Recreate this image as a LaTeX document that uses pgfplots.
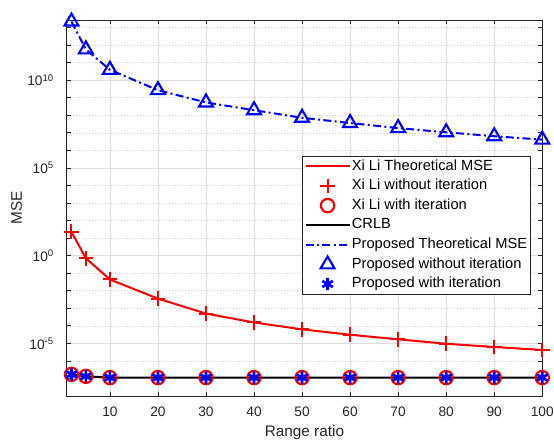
\documentclass[border=0pt]{standalone}
\usepackage{pgfplots}
\pgfplotsset{compat=1.18}
\usepackage{fontspec}
\setmainfont{Liberation Sans}
\definecolor{axgray}{rgb}{0.15,0.15,0.15}
\definecolor{gridmaj}{rgb}{0.87,0.87,0.87}
\definecolor{gridmin}{rgb}{0.80,0.80,0.80}
\begin{document}
\begin{tikzpicture}
\path[use as bounding box] (-50pt,-34.5pt) rectangle (365.5pt,297pt);
\begin{axis}[
  scale only axis,
  width=356.7pt, height=282pt,
  ymode=log,
  xmin=1, xmax=100,
  ymin=1e-8, ymax=2.7e13,
  xtick={10,20,30,40,50,60,70,80,90,100},
  ytick={1e-5,1,1e5,1e10},
  yticklabels={10\textsuperscript{-5},10\textsuperscript{0},10\textsuperscript{5},10\textsuperscript{10}},
  minor ytick={1e-8,1e-7,1e-6,1e-4,1e-3,1e-2,1e-1,1e1,1e2,1e3,1e4,1e6,1e7,1e8,1e9,1e11,1e12,1e13},
  /pgf/number format/assume math mode=true,
  grid=both,
  major grid style={color=gridmaj, line width=0.4pt},
  minor grid style={color=gridmin, dotted, line width=0.4pt},
  tick align=inside,
  major tick length=3pt, minor tick length=3pt,
  every tick/.style={axgray, line width=0.5pt},
  axis line style={axgray, line width=0.6pt},
  tick label style={font=\fontsize{10.3}{12}\selectfont, text=axgray},
  xticklabel style={yshift=-4.5pt},
  yticklabel style={xshift=-6pt},
  xlabel={Range ratio},
  ylabel={MSE},
  label style={font=\fontsize{11.5}{13}\selectfont, text=axgray},
  xlabel style={at={(axis description cs:0.5,-0.0984)}, anchor=center},
  ylabel style={at={(axis description cs:-0.1051,0.5)}, anchor=center},
  clip=false,
  legend cell align=left,
  legend style={at={(0.976,0.639)}, anchor=north east, draw=axgray, line width=0.5pt,
    font=\fontsize{11}{13}\selectfont, inner sep=1.5pt, row sep=2.2pt,
    nodes={inner sep=1pt, text height=8pt, text depth=2.5pt}},
  legend image code/.code={\draw[mark repeat=2,mark phase=2,#1] plot coordinates {(0pt,0pt) (16.5pt,0pt) (33pt,0pt)};},
]
\addplot[red, line width=1.5pt] coordinates {
  (2,22.9) (5,0.71) (10,0.0437) (20,3.55e-3) (30,5.0e-4) (40,1.55e-4)
  (50,6.3e-5) (60,3.1e-5) (70,1.7e-5) (80,9.5e-6) (90,6.2e-6) (100,4.2e-6)
};
\addlegendentry{Xi Li Theoretical MSE}
\addplot[red, only marks, mark=+, mark size=5.5pt, line width=1.5pt] coordinates {
  (2,22.9) (5,0.71) (10,0.0437) (20,3.55e-3) (30,5.0e-4) (40,1.55e-4)
  (50,6.3e-5) (60,3.1e-5) (70,1.7e-5) (80,9.5e-6) (90,6.2e-6) (100,4.2e-6)
};
\addlegendentry{Xi Li without iteration}
\addplot[red, only marks, mark=o, mark size=5pt, line width=1.6pt] coordinates {
  (2,1.7e-7) (5,1.32e-7) (10,1.12e-7) (20,1.12e-7) (30,1.12e-7) (40,1.12e-7)
  (50,1.12e-7) (60,1.12e-7) (70,1.12e-7) (80,1.12e-7) (90,1.12e-7) (100,1.12e-7)
};
\addlegendentry{Xi Li with iteration}
\addplot[black, line width=1.5pt] coordinates {
  (2,1.7e-7) (5,1.32e-7) (10,1.12e-7) (20,1.12e-7) (30,1.12e-7) (40,1.12e-7)
  (50,1.12e-7) (60,1.12e-7) (70,1.12e-7) (80,1.12e-7) (90,1.12e-7) (100,1.12e-7)
};
\addlegendentry{CRLB}
\addplot[blue, line width=1.5pt, dash pattern=on 6pt off 2.5pt on 1.5pt off 2.5pt] coordinates {
  (2,2.2e13) (5,5.7e11) (10,3.9e10) (20,2.7e9) (30,5.4e8) (40,1.95e8)
  (50,7.2e7) (60,3.6e7) (70,1.86e7) (80,1.07e7) (90,6.4e6) (100,4.1e6)
};
\addlegendentry{Proposed Theoretical MSE}
\addplot[blue, only marks, mark=triangle, mark size=6pt, line width=1.6pt] coordinates {
  (2,2.2e13) (5,5.7e11) (10,3.9e10) (20,2.7e9) (30,5.4e8) (40,1.95e8)
  (50,7.2e7) (60,3.6e7) (70,1.86e7) (80,1.07e7) (90,6.4e6) (100,4.1e6)
};
\addlegendentry{Proposed without iteration}
\addplot[blue, only marks, mark=asterisk, mark size=4.6pt, line width=2pt] coordinates {
  (2,1.7e-7) (5,1.32e-7) (10,1.12e-7) (20,1.12e-7) (30,1.12e-7) (40,1.12e-7)
  (50,1.12e-7) (60,1.12e-7) (70,1.12e-7) (80,1.12e-7) (90,1.12e-7) (100,1.12e-7)
};
\addlegendentry{Proposed with iteration}
\end{axis}
\end{tikzpicture}
\end{document}
